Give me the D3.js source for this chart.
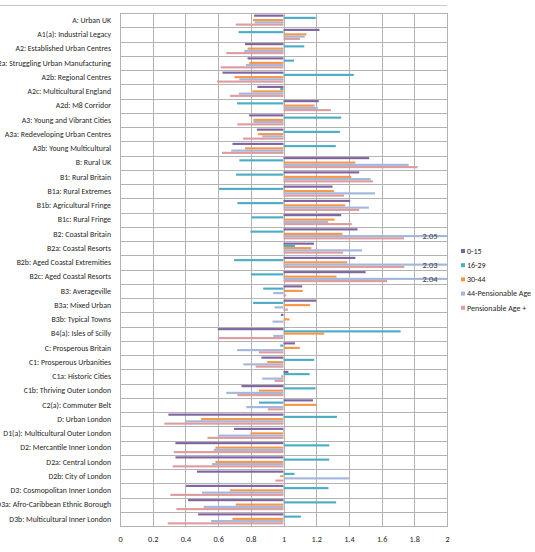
<!DOCTYPE html>
<html>
<head>
<meta charset="utf-8">
<script src="https://cdn.jsdelivr.net/npm/d3@7"></script>
<style>
  body { margin: 0; background: #fff; }
  svg text { font-family: Carlito, Calibri, Lato, sans-serif; fill: #262626; }
</style>
</head>
<body>
<svg id="chart" width="535" height="552"></svg>
<script>
// categories, top to bottom
var categories = [
  "A: Urban UK", "A1(a): Industrial Legacy", "A2: Established Urban Centres",
  "A2a: Struggling Urban Manufacturing", "A2b: Regional Centres", "A2c: Multicultural England",
  "A2d: M8 Corridor", "A3: Young and Vibrant Cities", "A3a: Redeveloping Urban Centres",
  "A3b: Young Multicultural", "B: Rural UK", "B1: Rural Britain", "B1a: Rural Extremes",
  "B1b: Agricultural Fringe", "B1c: Rural Fringe", "B2: Coastal Britain", "B2a: Coastal  Resorts",
  "B2b: Aged Coastal  Extremities", "B2c: Aged Coastal  Resorts", "B3: Averageville",
  "B3a: Mixed Urban", "B3b: Typical Towns", "B4(a): Isles of Scilly", "C: Prosperous Britain",
  "C1: Prosperous Urbanities", "C1a: Historic Cities", "C1b: Thriving Outer London",
  "C2(a): Commuter  Belt", "D: Urban London", "D1(a): Multicultural Outer London",
  "D2: Mercantile Inner London", "D2a: Central London", "D2b: City of London",
  "D3: Cosmopolitan  Inner London", "D3a: Afro-Caribbean Ethnic Borough",
  "D3b: Multicultural Inner London"
];

var seriesNames = ["0-15", "16-29", "30-44", "44-Pensionable Age", "Pensionable Age +"];
var seriesColors = ["#8064a2", "#4bacc6", "#f79646", "#a3b6db", "#df9c9f"];

var age0to15 = [0.82, 1.22, 0.765, 0.78, 0.627, 0.84, 1.216, 0.79, 0.837, 0.688,
  1.524, 1.463, 1.30, 1.408, 1.353, 1.453, 1.186, 1.44, 1.502, 1.114,
  1.20, 0.984, 0.598, 1.07, 0.865, 1.03, 0.743, 1.18, 0.296, 0.698,
  0.339, 0.339, 0.471, 0.404, 0.416, 0.478];
var age16to29 = [1.197, 0.725, 1.127, 1.065, 1.43, 0.98, 0.716, 1.353, 1.345, 1.32,
  0.73, 0.71, 0.606, 0.718, 0.804, 0.798, 1.07, 0.698, 0.80, 0.876,
  0.814, 1.0, 1.716, 0.98, 1.188, 1.16, 1.196, 0.85, 1.327, 1.003,
  1.28, 1.28, 1.067, 1.275, 1.322, 1.106];
var age30to44 = [0.814, 1.14, 0.78, 0.79, 0.70, 0.81, 1.19, 0.816, 0.845, 0.765,
  1.44, 1.414, 1.308, 1.378, 1.312, 1.36, 1.17, 1.39, 1.324, 1.118,
  1.163, 1.037, 1.249, 1.10, 0.90, 0.986, 0.85, 1.20, 0.496, 0.798,
  0.584, 0.584, 0.98, 0.673, 0.708, 0.688];
var age44toPension = [0.824, 1.13, 0.76, 0.77, 0.73, 0.727, 1.21, 0.816, 0.87, 0.68,
  1.765, 1.533, 1.56, 1.522, 1.273, 2.05, 1.48, 2.03, 2.04, 0.937,
  0.945, 0.933, 0.937, 0.716, 0.755, 0.87, 0.65, 0.773, 0.398, 0.598,
  0.573, 0.563, 1.40, 0.502, 0.512, 0.557];
var agePensionPlus = [0.708, 1.10, 0.65, 0.615, 0.594, 0.673, 1.29, 0.718, 0.753, 0.624,
  1.82, 1.547, 1.37, 1.463, 1.418, 1.737, 1.365, 1.739, 1.633, 1.016,
  1.027, 1.002, 0.598, 0.85, 0.83, 0.945, 0.718, 0.904, 0.271, 0.535,
  0.329, 0.322, 0.95, 0.308, 0.345, 0.292];

var xTicks = [0, 0.2, 0.4, 0.6, 0.8, 1, 1.2, 1.4, 1.6, 1.8, 2];

var allSeries = [age0to15, age16to29, age30to44, age44toPension, agePensionPlus];

var svg = d3.select("#chart");
var plotLeft = 120, plotRight = 447, plotTop = 13, plotBottom = 526;

var x = d3.scaleLinear().domain([0, 2]).range([plotLeft, plotRight]).clamp(true);
var y = d3.scaleBand().domain(categories).range([plotTop, plotBottom]);
var inner = d3.scaleBand().domain(d3.range(5)).range([0, y.bandwidth()])
  .paddingInner(0.05).paddingOuter(0.7);

// line across the top
svg.append("line")
  .attr("x1", 0).attr("x2", plotRight).attr("y1", 5.5).attr("y2", 5.5)
  .attr("stroke", "#c8c8c8").attr("stroke-width", 1);

// grid
var grid = svg.append("g");
grid.selectAll("line.v").data(xTicks).enter().append("line")
  .attr("class", "v")
  .attr("x1", function(d) { return Math.round(x(d)) + 0.5; })
  .attr("x2", function(d) { return Math.round(x(d)) + 0.5; })
  .attr("y1", plotTop).attr("y2", plotBottom)
  .attr("stroke", "#b3b3b3");
grid.selectAll("line.h").data(d3.range(categories.length + 1)).enter().append("line")
  .attr("class", "h")
  .attr("x1", plotLeft).attr("x2", plotRight + 1)
  .attr("y1", function(i) { return Math.round(plotTop + i * y.step()) + 0.5; })
  .attr("y2", function(i) { return Math.round(plotTop + i * y.step()) + 0.5; })
  .attr("stroke", "#b3b3b3");

// bars grow from 1
var bars = svg.append("g");
allSeries.forEach(function(values, s) {
  bars.selectAll("rect.s" + s).data(values).enter().append("rect")
    .attr("class", "s" + s)
    .attr("x", function(v) { return Math.min(x(v), x(1)); })
    .attr("width", function(v) { return Math.abs(x(v) - x(1)); })
    .attr("y", function(v, i) { return y(categories[i]) + inner(s); })
    .attr("height", inner.bandwidth())
    .attr("fill", seriesColors[s]);
});

// labels on the bars past the axis end
var over = [];
age44toPension.forEach(function(v, i) { if (v > 2) over.push({ v: v, i: i }); });
svg.append("g").selectAll("text").data(over).enter().append("text")
  .attr("x", x(2) - 17)
  .attr("y", function(d) { return y(categories[d.i]) + inner(3) + inner.bandwidth() / 2 + 3; })
  .attr("text-anchor", "middle")
  .attr("font-size", 8.5)
  .style("fill", "#404040")
  .text(function(d) { return d3.format(".2f")(d.v); });

// category labels
svg.append("g").selectAll("text").data(categories).enter().append("text")
  .attr("x", 111)
  .attr("y", function(d) { return y(d) + y.bandwidth() / 2 + 2.7; })
  .attr("text-anchor", "end")
  .attr("font-size", 7.8)
  .text(function(d) { return d; });

// x axis tick labels
var xAxis = d3.axisBottom(x).tickValues(xTicks).tickSize(0).tickPadding(0)
  .tickFormat(function(d) { return String(d); });
var xg = svg.append("g").attr("transform", "translate(0," + (plotBottom + 10) + ")").call(xAxis);
xg.select(".domain").remove();
xg.selectAll("text").attr("font-size", 8.2).attr("font-family", null).style("fill", "#262626");

// legend
var legend = svg.append("g").selectAll("g").data(seriesNames).enter().append("g")
  .attr("transform", function(d, i) { return "translate(461," + (251 + i * 14.2) + ")"; });
legend.append("rect").attr("x", 0).attr("y", -2).attr("width", 4).attr("height", 4)
  .attr("fill", function(d, i) { return seriesColors[i]; });
legend.append("text").attr("x", 6).attr("y", 2.7).attr("font-size", 8)
  .text(function(d) { return d; });
</script>
</body>
</html>
